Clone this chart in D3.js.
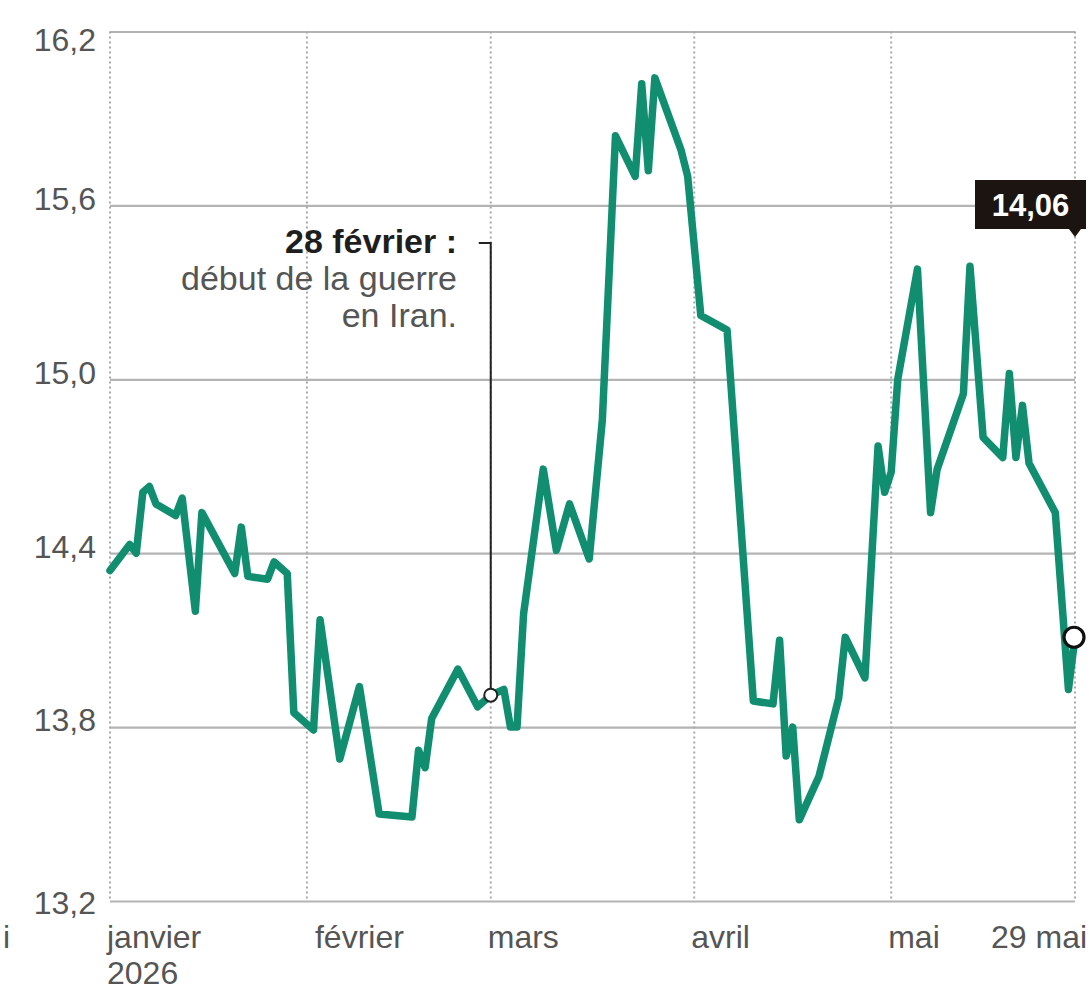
<!DOCTYPE html>
<html><head><meta charset="utf-8">
<script src="https://cdn.jsdelivr.net/npm/d3@7"></script>
<style>
html,body{margin:0;padding:0;background:#fff;}
svg{display:block;font-family:"Liberation Sans",Arial,sans-serif;}
</style></head>
<body>
<svg id="chart" width="1091" height="991"></svg>
<script>
// ---- data ----
const dates = ["2026-01-02","2026-01-05","2026-01-06","2026-01-07","2026-01-08","2026-01-09","2026-01-12","2026-01-13","2026-01-15","2026-01-16",
"2026-01-21","2026-01-22","2026-01-23","2026-01-26","2026-01-27","2026-01-29","2026-01-30","2026-02-02","2026-02-03","2026-02-06",
"2026-02-09","2026-02-12","2026-02-17","2026-02-18","2026-02-19","2026-02-20","2026-02-24","2026-02-27","2026-03-01","2026-03-03",
"2026-03-04","2026-03-05","2026-03-06","2026-03-09","2026-03-11","2026-03-13","2026-03-16","2026-03-18","2026-03-20","2026-03-23",
"2026-03-24","2026-03-25","2026-03-26","2026-03-30","2026-03-31","2026-04-02","2026-04-06","2026-04-10","2026-04-13","2026-04-14",
"2026-04-15","2026-04-16","2026-04-17","2026-04-20","2026-04-23","2026-04-24","2026-04-27","2026-04-29","2026-04-30","2026-05-01",
"2026-05-02","2026-05-05","2026-05-07","2026-05-08","2026-05-12","2026-05-13","2026-05-15","2026-05-18","2026-05-19","2026-05-20",
"2026-05-21","2026-05-22","2026-05-26","2026-05-28","2026-05-29"];
const values = [14.34,14.43,14.40,14.61,14.63,14.57,14.53,14.59,14.20,14.54,
14.33,14.49,14.32,14.31,14.37,14.33,13.85,13.79,14.17,13.69,
13.94,13.50,13.49,13.72,13.66,13.83,14.00,13.87,13.91,13.93,
13.80,13.80,14.19,14.69,14.41,14.57,14.38,14.86,15.84,15.70,
16.02,15.72,16.04,15.79,15.70,15.22,15.17,13.89,13.88,14.10,
13.70,13.80,13.48,13.63,13.90,14.11,13.97,14.77,14.61,14.68,
15.00,15.38,14.54,14.69,14.95,15.39,14.80,14.73,15.02,14.73,
14.91,14.71,14.54,13.93,14.11];
const yTicks = [13.2,13.8,14.4,15.0,15.6,16.2];
const monthTickDates = ["2026-01-02","2026-02-01","2026-03-01","2026-04-01","2026-05-01","2026-05-29"];
const monthLabels = [["janvier","2026"],["février"],["mars"],["avril"],["mai"],["29 mai"]];
const annotationDate = "2026-03-01";
const annotationTitle = "28 février :";
const annotationLines = ["début de la guerre","en Iran."];
const lastLabel = "14,06";

// ---- setup ----
const parse = d3.utcParse("%Y-%m-%d");
const data = dates.map((d,i)=>({date:parse(d), value:values[i]}));
const svg = d3.select("#chart");
const L = 110, R = 1075, T = 31.5, B = 901;
const x = d3.scaleUtc().domain([parse(dates[0]), parse(dates[dates.length-1])]).range([L,R]);
const y = d3.scaleLinear().domain([13.2,16.2]).range([B,T]);
const fr = d3.formatLocale({decimal:",",thousands:" ",grouping:[3],currency:["","€"]});
const fmt = fr.format(".1f");

// horizontal gridlines via axis
const gy = svg.append("g").attr("transform",`translate(${L},0)`)
  .call(d3.axisLeft(y).tickValues(yTicks).tickSize(-(R-L)).tickFormat(fmt));
gy.select(".domain").remove();
gy.selectAll(".tick line").attr("stroke","#b4b4b4").attr("stroke-width",2.2);
gy.selectAll(".tick text").attr("x",-14).attr("fill","#555").attr("font-size",32)
  .attr("dy", d => d===16.2 ? "0.6em" : (d===13.2 ? "0.38em" : "0.12em"));

// vertical dotted month lines
const tickDates = monthTickDates.map(parse);
svg.append("g").selectAll("line").data(tickDates).join("line")
  .attr("x1",d=>x(d)).attr("x2",d=>x(d)).attr("y1",T).attr("y2",B)
  .attr("stroke","#a8a8a8").attr("stroke-width",2).attr("stroke-dasharray","2,3");

// month labels
const ml = svg.append("g").attr("fill","#555").attr("font-size",32);
tickDates.forEach((d,i)=>{
  const lbl = monthLabels[i];
  let xp = x(d) - 3;
  if (i===1) xp = x(d) + 8;
  if (i===tickDates.length-1) xp = x(d) - 84;
  lbl.forEach((s,j)=> ml.append("text").attr("x",xp).attr("y",948 + 36*j).text(s));
});
// fragment of the neighbouring panel's label at the left edge
ml.append("text").attr("x",3).attr("y",948).text("i");

// line
svg.append("path").datum(data)
  .attr("d", d3.line().x(d=>x(d.date)).y(d=>y(d.value)))
  .attr("fill","none").attr("stroke","#118d70").attr("stroke-width",7.5)
  .attr("stroke-linejoin","round").attr("stroke-linecap","round");

// annotation
const aDate = parse(annotationDate);
const aVal = data.find(d=>+d.date===+aDate).value;
const ax = x(aDate), ay = y(aVal);
svg.append("path").attr("d",`M${ax-12},243 H${ax} V${ay}`)
  .attr("fill","none").attr("stroke","#222").attr("stroke-width",2);
svg.append("circle").attr("cx",ax).attr("cy",ay).attr("r",6.5)
  .attr("fill","#fff").attr("stroke","#222").attr("stroke-width",2);
const at = svg.append("g").attr("text-anchor","end").attr("font-size",34);
at.append("text").attr("x",457).attr("y",253).attr("font-weight","bold").attr("fill","#1e1e1e").text(annotationTitle);
annotationLines.forEach((s,i)=> at.append("text").attr("x",457).attr("y",290+37*i).attr("fill","#555").text(s));

// last point marker & label
const last = data[data.length-1];
svg.append("circle").attr("cx",x(last.date)-1).attr("cy",y(last.value)).attr("r",10)
  .attr("fill","#fff").attr("stroke","#111").attr("stroke-width",3.2);
const bx = 975, by = 180, bw = 111, bh = 49;
svg.append("path")
  .attr("d",`M${bx},${by} h${bw} v${bh} H${x(last.date)+6} L${x(last.date)},${by+bh+8} L${x(last.date)-6},${by+bh} H${bx} Z`)
  .attr("fill","#1b1410");
svg.append("text").attr("x",bx+bw/2).attr("y",by+bh/2).attr("dy","0.36em")
  .attr("text-anchor","middle").attr("fill","#fff").attr("font-weight","bold").attr("font-size",31)
  .text(lastLabel);
</script>
</body></html>
